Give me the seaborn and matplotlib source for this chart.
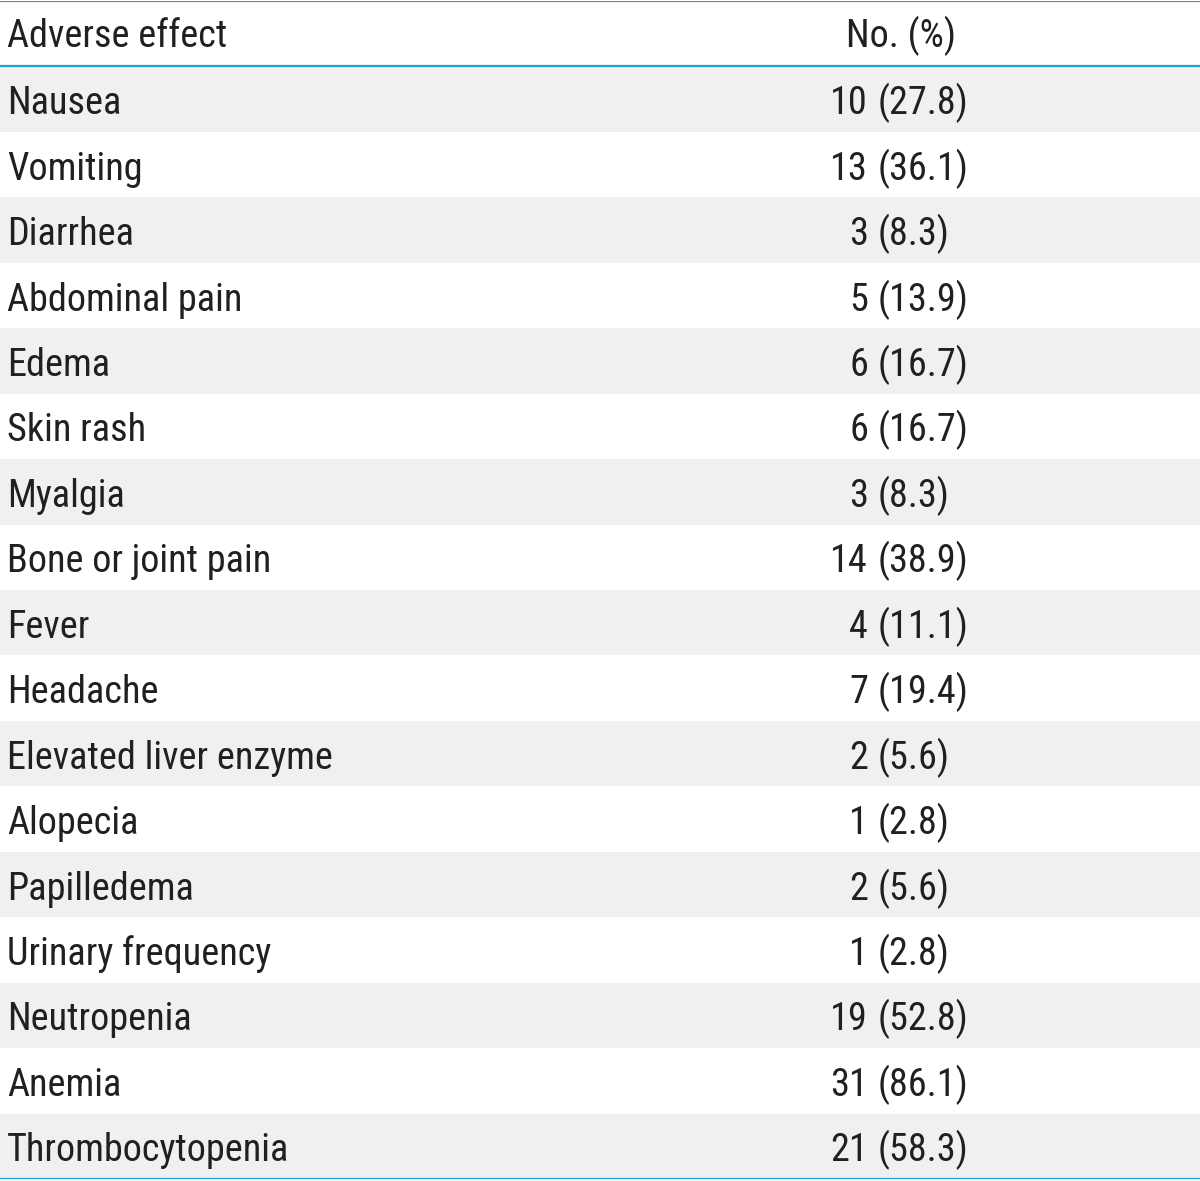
import numpy as np
import pandas as pd
import seaborn as sns
import matplotlib.pyplot as plt
from matplotlib.colors import ListedColormap

# table contents
effects = ['Nausea', 'Vomiting', 'Diarrhea', 'Abdominal pain', 'Edema', 'Skin rash',
           'Myalgia', 'Bone or joint pain', 'Fever', 'Headache', 'Elevated liver enzyme',
           'Alopecia', 'Papilledema', 'Urinary frequency', 'Neutropenia', 'Anemia',
           'Thrombocytopenia']
counts = [10, 13, 3, 5, 6, 6, 3, 14, 4, 7, 2, 1, 2, 1, 19, 31, 21]
percents = [27.8, 36.1, 8.3, 13.9, 16.7, 16.7, 8.3, 38.9, 11.1, 19.4, 5.6, 2.8, 5.6,
            2.8, 52.8, 86.1, 58.3]
headers = ['Adverse effect', 'No. (%)']

sns.set_theme(style='white')
plt.rcParams['font.family'] = ['Roboto Condensed', 'DejaVu Sans']

# shading: header white, then alternate grey / white
shade = pd.DataFrame({'s': [0] + [1 - (i % 2) for i in range(len(effects))]})

fig = plt.figure(figsize=(12, 11.81), dpi=100)
ax = fig.add_axes([0, 2 / 1181, 1, 1178 / 1181])
sns.heatmap(shade, ax=ax, cmap=ListedColormap(['#ffffff', '#f0f0f0']), cbar=False,
            xticklabels=False, yticklabels=False, vmin=0, vmax=1)
ax.set_xlabel('')
ax.set_ylabel('')

trans = ax.get_yaxis_transform()
txt = dict(fontsize=27.5, fontweight='normal', color='#231f20', va='baseline', transform=trans)
base = 0.73  # baseline position within a row

ax.text(7 / 1200, base - 0.02, headers[0], ha='left', **txt)
ax.text(901 / 1200, base - 0.02, headers[1], ha='center', **txt)

for i, (name, n, p) in enumerate(zip(effects, counts, percents)):
    y = i + 1 + base
    ax.text(7 / 1200, y, name, ha='left', **txt)
    ax.text(868 / 1200, y, str(n), ha='right', **txt)
    ax.text(878 / 1200, y, f'({p:.1f})', ha='left', **txt)

line_c = '#1ea0d8'
for yy in [0, 1, len(effects) + 1]:
    ax.axhline(yy, color=line_c, lw=1.6)

for s in ax.spines.values():
    s.set_visible(False)

fig.savefig('out.png', dpi=100)
